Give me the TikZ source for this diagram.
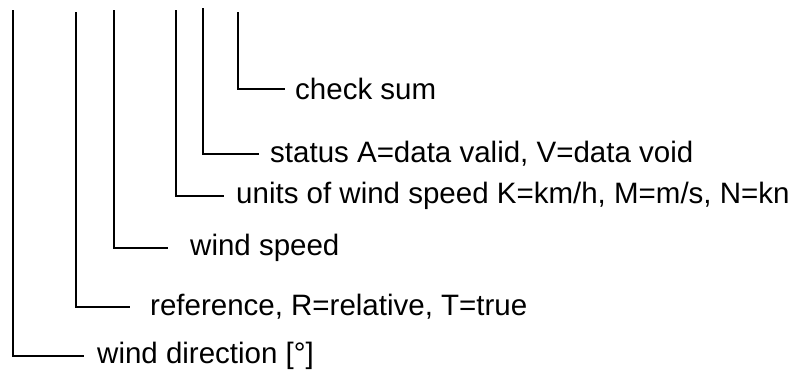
\documentclass[tikz,border=0pt]{standalone}
\usepackage{fontspec}
\setmainfont{Liberation Sans}
\tikzset{
  field/.style={anchor=west, inner sep=0pt, font=\fontsize{29.5}{34}\selectfont},
  bracket/.style={line width=2pt, line cap=rect}
}
\begin{document}
\begin{tikzpicture}[x=1pt, y=-1pt]
    \useasboundingbox (0,0) rectangle (789,371);
    % labels
    \node[field] (dir) at (97,356) {wind direction [\textdegree]};
    \node[field] (ref) at (150,307) {reference, R=relative, T=true};
    \node[field] (spd) at (190,248) {wind speed};
    \node[field] (unit) at (236,196) {units of wind speed K=km/h, M=m/s, N=kn};
    \node[field] (stat) at (270,154) {status A=data valid, V=data void};
    \node[field] (sum) at (295,89) {check sum};
    % tops of the brackets
    \coordinate (tdir) at (13,11);
    \coordinate (tref) at (76,13);
    \coordinate (tspd) at (114,11);
    \coordinate (tunit) at (176,11);
    \coordinate (tstat) at (203,9);
    \coordinate (tsum) at (238,13);
    \draw [bracket] (tdir) |- ([xshift=-14pt]dir.west);
    \draw [bracket] (tref) |- ([xshift=-21pt]ref.west);
    \draw [bracket] (tspd) |- ([xshift=-23pt]spd.west);
    \draw [bracket] (tunit) |- ([xshift=-13pt]unit.west);
    \draw [bracket] (tstat) |- ([xshift=-12pt]stat.west);
    \draw [bracket] (tsum) |- ([xshift=-11pt]sum.west);
  \end{tikzpicture}
\end{document}
